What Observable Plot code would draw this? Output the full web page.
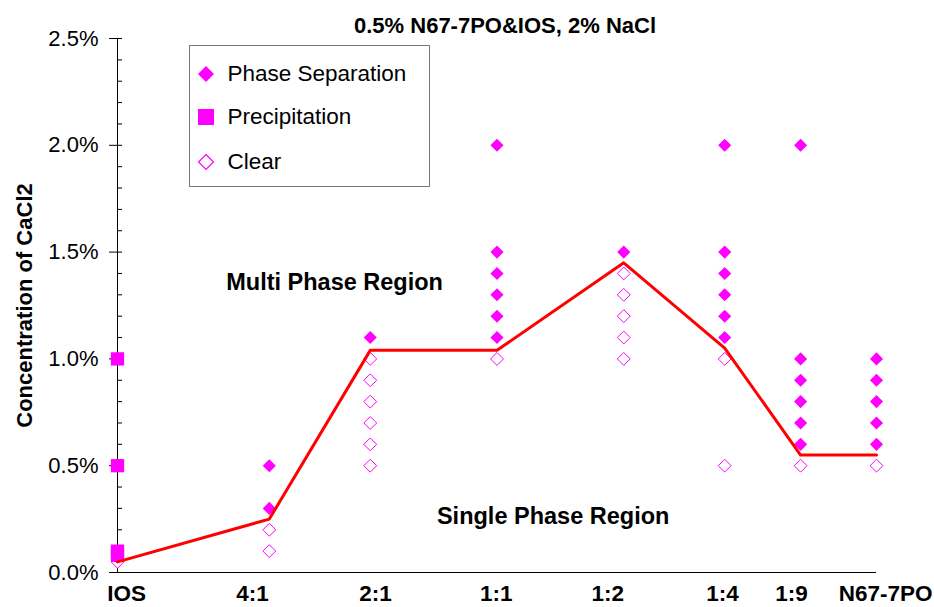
<!DOCTYPE html>
<html>
<head>
<meta charset="utf-8">
<script src="https://cdn.jsdelivr.net/npm/d3@7"></script>
<script src="https://cdn.jsdelivr.net/npm/@observablehq/plot@0.6"></script>
<style>
  body { margin: 0; background: #fff; }
  #wrap { position: relative; width: 934px; height: 607px; font-family: "Liberation Sans", Arial, sans-serif; }
  #legend { position: absolute; left: 189px; top: 45px; width: 239px; height: 140px; border: 1.5px solid #777; background: #fff; }
  .sym { position: absolute; left: 5.5px; width: 20px; height: 20px; }
  .lab { position: absolute; left: 37.5px; height: 26px; line-height: 26px; font-size: 22.5px; color: #000; white-space: nowrap; }
</style>
</head>
<body>
<div id="wrap"></div>
<script>
// ---- data ----
const ratioLabels = ["IOS", "4:1", "2:1", "1:1", "1:2", "1:4", "1:9", "N67-7PO"];
const ratioX = [0, 0.2, 0.333, 0.5, 0.667, 0.8, 0.9, 1];          // fraction of N67-7PO
const tickLabelX = [0.012, 0.178, 0.340, 0.499, 0.646, 0.797, 0.888, 1.012]; // where labels sit

const phaseSeparation = [
  ["4:1", 0.5], ["4:1", 0.3],
  ["2:1", 1.1],
  ["1:1", 2.0], ["1:1", 1.5], ["1:1", 1.4], ["1:1", 1.3], ["1:1", 1.2], ["1:1", 1.1],
  ["1:2", 1.5],
  ["1:4", 2.0], ["1:4", 1.5], ["1:4", 1.4], ["1:4", 1.3], ["1:4", 1.2], ["1:4", 1.1],
  ["1:9", 2.0], ["1:9", 1.0], ["1:9", 0.9], ["1:9", 0.8], ["1:9", 0.7], ["1:9", 0.6],
  ["N67-7PO", 1.0], ["N67-7PO", 0.9], ["N67-7PO", 0.8], ["N67-7PO", 0.7], ["N67-7PO", 0.6]
];
const precipitation = [
  ["IOS", 1.0], ["IOS", 0.5], ["IOS", 0.1], ["IOS", 0.08]
];
const clear = [
  ["IOS", 0.05],
  ["4:1", 0.2], ["4:1", 0.1],
  ["2:1", 1.0], ["2:1", 0.9], ["2:1", 0.8], ["2:1", 0.7], ["2:1", 0.6], ["2:1", 0.5],
  ["1:1", 1.0],
  ["1:2", 1.4], ["1:2", 1.3], ["1:2", 1.2], ["1:2", 1.1], ["1:2", 1.0],
  ["1:4", 1.0], ["1:4", 0.5],
  ["1:9", 0.5],
  ["N67-7PO", 0.5]
];
const boundaryRatio = ["IOS", "4:1", "2:1", "1:1", "1:2", "1:4", "1:9", "N67-7PO"];
const boundaryY = [0.05, 0.25, 1.04, 1.04, 1.45, 1.05, 0.55, 0.55];

const yMajorTicks = [0, 0.5, 1.0, 1.5, 2.0, 2.5];
const title = "0.5% N67-7PO&IOS, 2% NaCl";
const yLabel = "Concentration of CaCl2";
const regions = [
  {text: "Multi Phase Region", ratio: 0.286, y: 1.36},
  {text: "Single Phase Region", ratio: 0.574, y: 0.26}
];
const legendNames = ["Phase Separation", "Precipitation", "Clear"];

// ---- build ----
const xOf = new Map(ratioLabels.map((r, i) => [r, ratioX[i]]));
const tickName = new Map(tickLabelX.map((x, i) => [x, ratioLabels[i]]));
const toPts = arr => arr.map(([r, v]) => ({x: xOf.get(r), y: v}));
const boundary = boundaryRatio.map((r, i) => ({x: xOf.get(r), y: boundaryY[i]}));
const yMinorTicks = d3.range(0, 2.501, 0.1).map(v => +v.toFixed(1));
const MAG = "#ff00ff";
const FONT = "Liberation Sans, Arial, sans-serif";

const chart = Plot.plot({
  width: 934,
  height: 607,
  marginLeft: 117,
  marginRight: 58,
  marginTop: 38,
  marginBottom: 35,
  style: {fontFamily: FONT, fontSize: "22px", color: "#000", background: "#fff", overflow: "visible"},
  x: {domain: [0, 1]},
  y: {domain: [0, 2.5]},
  marks: [
    Plot.axisY({ticks: yMajorTicks, tickSize: 8, tickPadding: 11, tickFormat: d => d.toFixed(1) + "%", fontSize: 22, label: null}),
    Plot.axisY({ticks: yMinorTicks, tickSize: -5, tickFormat: () => "", label: null}),
    Plot.axisX({ticks: tickLabelX, tickSize: 0, tickPadding: 13, tickFormat: d => tickName.get(d),
      fontSize: 22.5, fontWeight: "bold", label: null}),
    Plot.ruleX([0], {stroke: "#000", strokeWidth: 1}),
    Plot.ruleY([0], {stroke: "#000", strokeWidth: 1}),
    Plot.dot(toPts(clear), {x: "x", y: "y", symbol: "diamond2", r: 5.8, stroke: MAG, fill: "#fff", strokeWidth: 1}),
    Plot.dot(toPts(precipitation), {x: "x", y: "y", symbol: "square", r: 7.5, fill: MAG, stroke: "none"}),
    Plot.dot(toPts(phaseSeparation), {x: "x", y: "y", symbol: "diamond2", r: 5.9, fill: MAG, stroke: "none"}),
    Plot.line(boundary, {x: "x", y: "y", stroke: "#ff0000", strokeWidth: 3}),
    Plot.text(regions, {x: "ratio", y: "y", text: "text", fontSize: 23.5, fontWeight: "bold", fill: "#000"}),
    Plot.text([title], {frameAnchor: "top", dy: -21, dx: 8, text: d => d, fontSize: 22, fontWeight: "bold", fill: "#000"}),
    Plot.text([yLabel], {frameAnchor: "left", textAnchor: "middle", dx: -93, rotate: -90, text: d => d,
      fontSize: 22, fontWeight: "bold", fill: "#000"})
  ]
});

const wrap = document.getElementById("wrap");
wrap.appendChild(chart);

// legend overlay (inside the plot frame, top-left)
const legend = document.createElement("div");
legend.id = "legend";
const legendSymbols = [
  `<svg class="sym" viewBox="0 0 20 20"><path d="M10,2L18,10L10,18L2,10Z" fill="${MAG}"/></svg>`,
  `<svg class="sym" viewBox="0 0 20 20"><rect x="2" y="2" width="16" height="16" fill="${MAG}"/></svg>`,
  `<svg class="sym" viewBox="0 0 20 20"><path d="M10,2.5L17.5,10L10,17.5L2.5,10Z" fill="#fff" stroke="${MAG}" stroke-width="1.2"/></svg>`
];
const legendCenters = [27.5, 71, 116]; // px from legend's inner top
legendNames.forEach((name, i) => {
  const s = document.createElement("div");
  s.innerHTML = legendSymbols[i];
  const svg = s.firstChild;
  svg.style.top = (legendCenters[i] - 10) + "px";
  legend.appendChild(svg);
  const l = document.createElement("div");
  l.className = "lab";
  l.style.top = (legendCenters[i] - 13) + "px";
  l.textContent = name;
  legend.appendChild(l);
});
wrap.appendChild(legend);
</script>
</body>
</html>
